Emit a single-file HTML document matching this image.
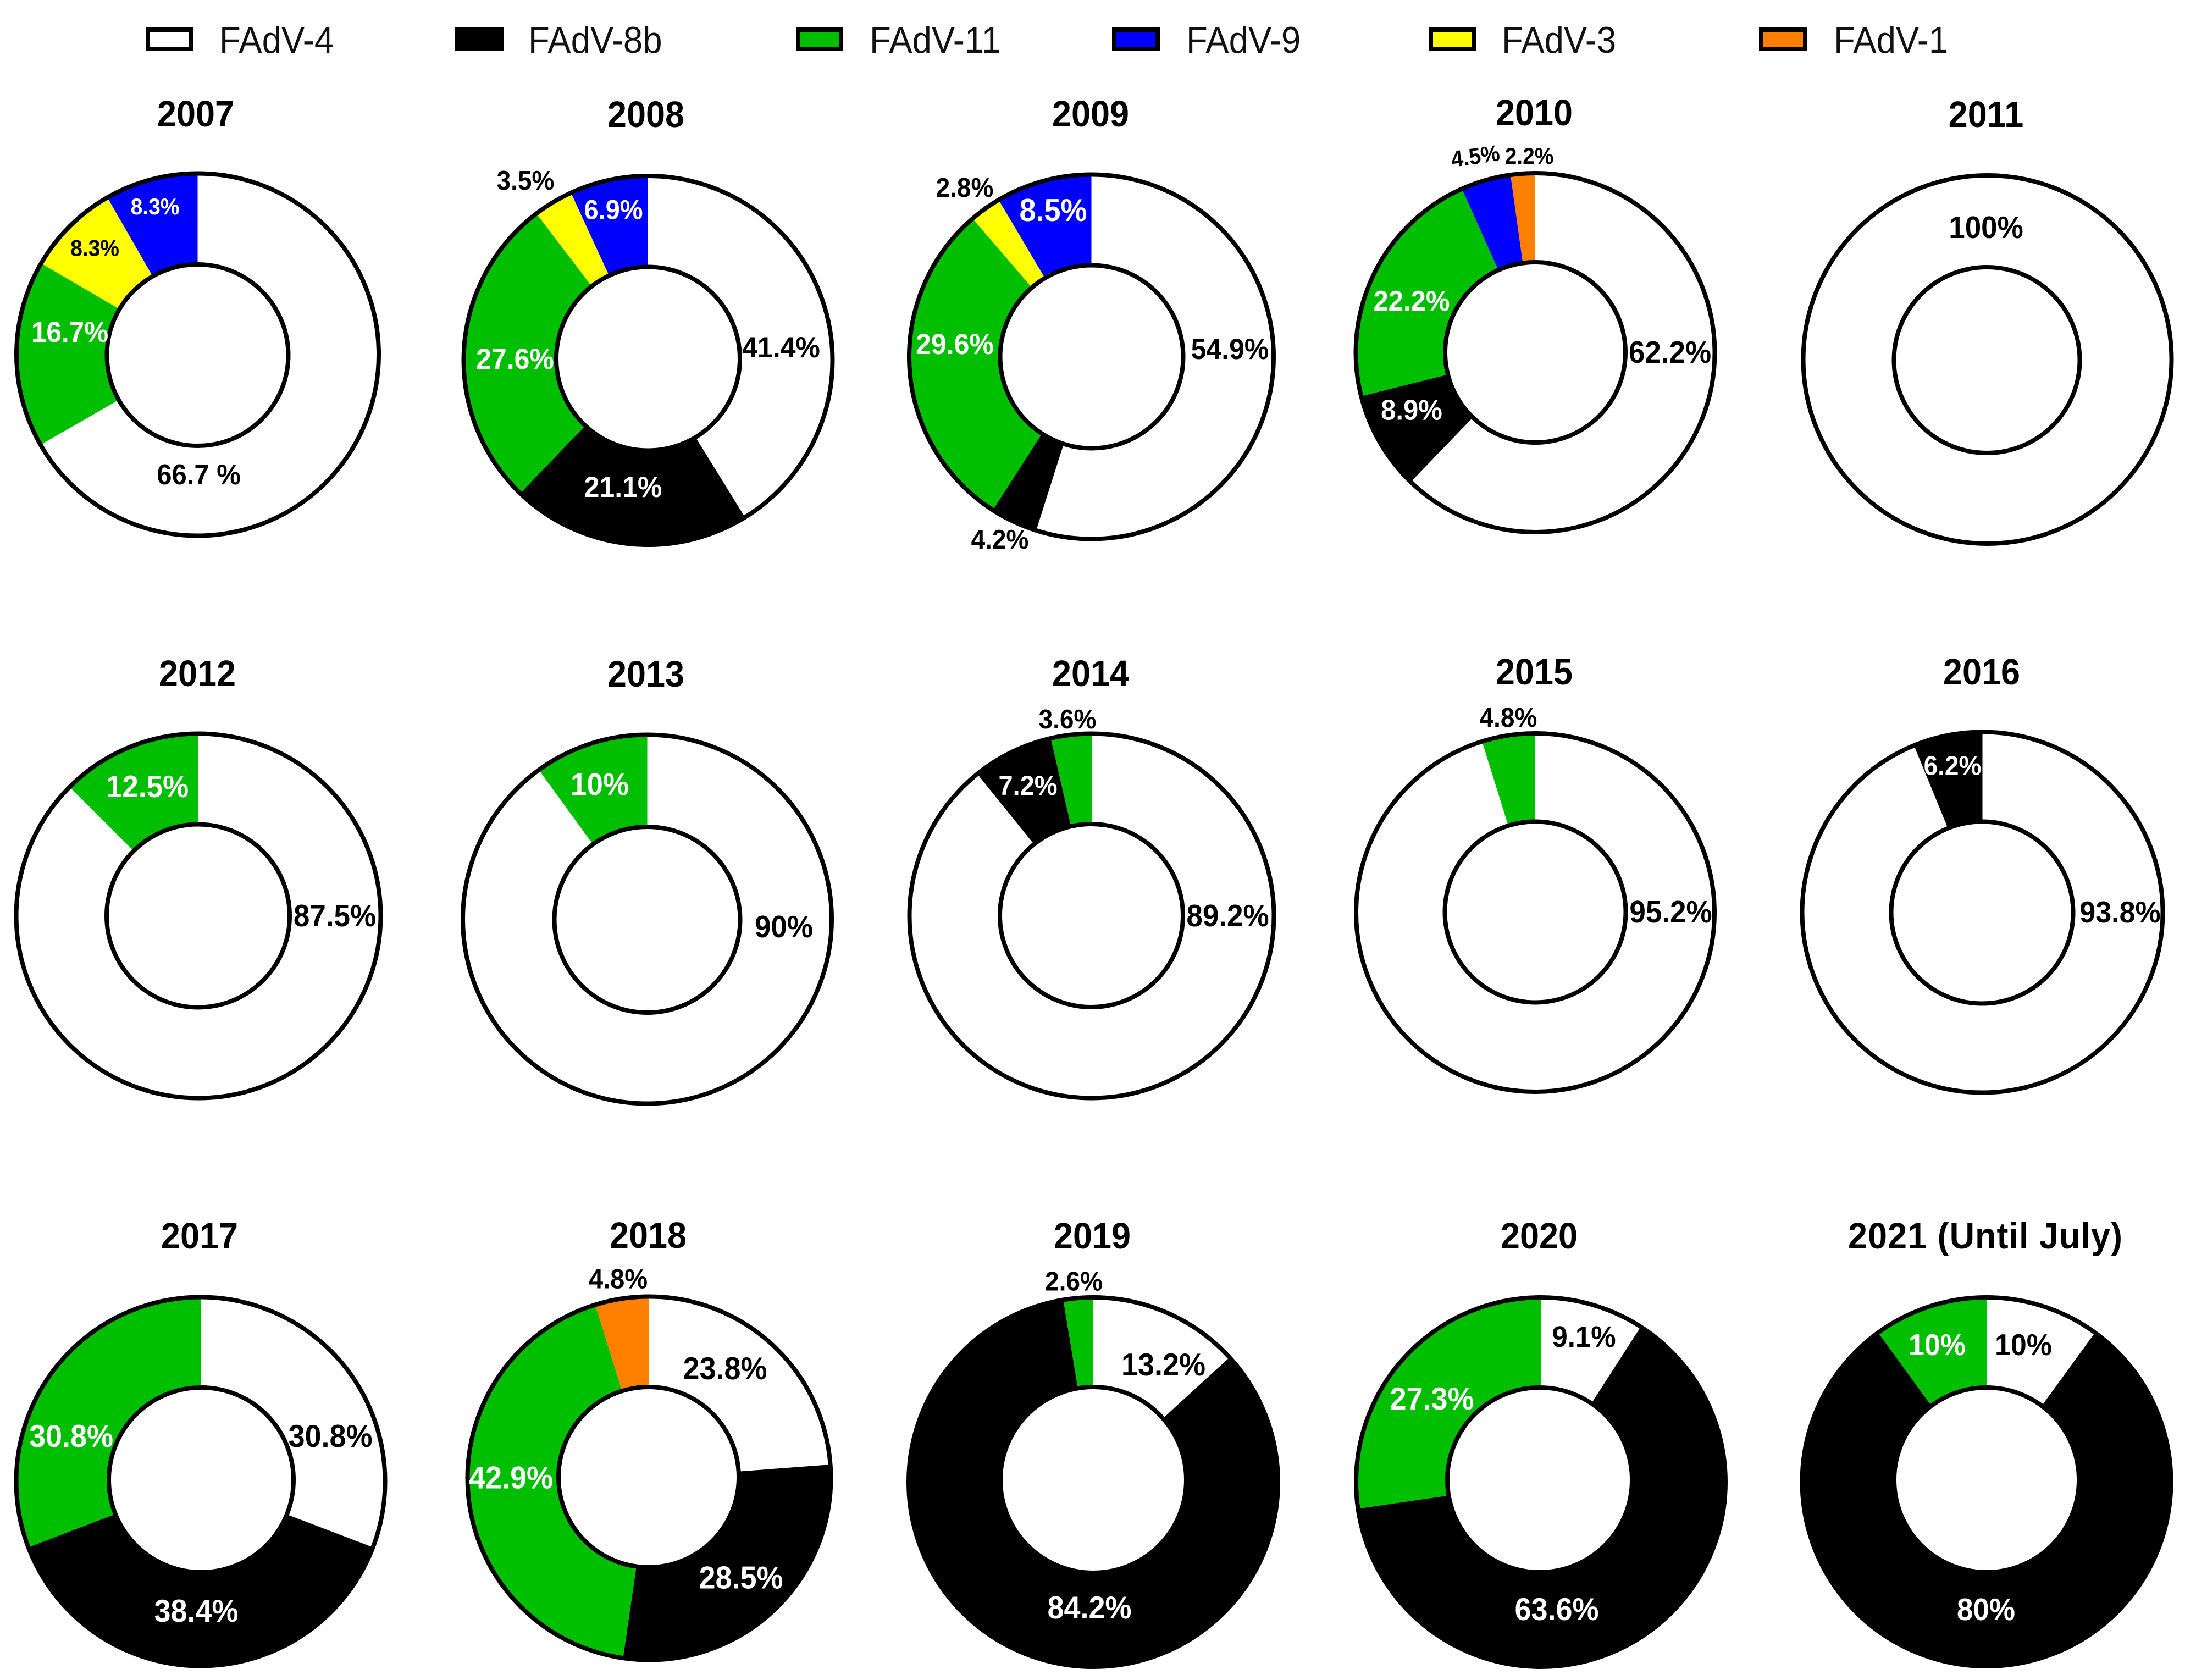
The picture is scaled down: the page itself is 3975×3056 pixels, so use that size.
<!DOCTYPE html>
<html lang="en">
<head>
<meta charset="utf-8">
<title>FAdV serotype distribution by year</title>
<style>
html,body{margin:0;padding:0;background:#fff;}
body{width:3975px;height:3056px;overflow:hidden;}
svg{display:block;}
text{font-family:"Liberation Sans",Arial,sans-serif;}
</style>
</head>
<body>
<svg id="chart" xmlns="http://www.w3.org/2000/svg" width="3975" height="3056" viewBox="0 0 3975 3056">
  <rect x="0" y="0" width="3975" height="3056" fill="#fff"/>
  <g id="legend"></g>
  <g id="panels"></g>
</svg>
<script>
// ---- data ----
const categories = ['2007','2008','2009','2010','2011','2012','2013','2014','2015','2016','2017','2018','2019','2020','2021 (Until July)'];
const seriesNames = ['FAdV-4','FAdV-8b','FAdV-11','FAdV-3','FAdV-9','FAdV-1'];
const fadv4  = [66.7,41.4,54.9,62.2,100,87.5,90,89.2,95.2,93.8,30.8,23.8,13.2,9.1,10];
const fadv8b = [0,21.1,4.2,8.9,0,0,0,7.2,0,6.2,38.4,28.5,84.2,63.6,80];
const fadv11 = [16.7,27.6,29.6,22.2,0,12.5,10,3.6,4.8,0,30.8,42.9,2.6,27.3,10];
const fadv3  = [8.3,3.5,2.8,0,0,0,0,0,0,0,0,0,0,0,0];
const fadv9  = [8.3,6.9,8.5,4.5,0,0,0,0,0,0,0,0,0,0,0];
const fadv1  = [0,0,0,2.2,0,0,0,0,0,0,0,4.8,0,0,0];

// ---- styling and layout (not data) ----
const seriesValues = [fadv4,fadv8b,fadv11,fadv3,fadv9,fadv1];
const seriesColors = ['#ffffff','#000000','#00be00','#ffff00','#0000ff','#ff8000'];
const legendOrder = [0,1,2,4,3,5];
const legendLayout = [
  {bx:269,bw:78,tx:399},{bx:832,bw:80,tx:961},{bx:1452,bw:78,tx:1582},
  {bx:2027,bw:79,tx:2158},{bx:2603,bw:78,tx:2732},{bx:3204,bw:80,tx:3336}
];
const panelLayout = [
  {cx:359.5,cy:645,r:329.5,ix:359.5,iy:646,ri:165,tx:356,ty:230},
  {cx:1179,cy:655.5,r:335.5,ix:1179,iy:652.5,ri:167,tx:1175,ty:231},
  {cx:1985.5,cy:649,r:331.5,ix:1986,iy:649,ri:166.5,tx:1984,ty:230},
  {cx:2793,cy:641.5,r:326.5,ix:2793,iy:641,ri:164,tx:2791,ty:228},
  {cx:3615.5,cy:654,r:335,ix:3614.5,iy:655,ri:169,tx:3613,ty:231},
  {cx:361,cy:1666,r:331.5,ix:360.5,iy:1666,ri:166.5,tx:359,ty:1248},
  {cx:1177.5,cy:1672,r:335.5,ix:1177.5,iy:1673,ri:169,tx:1175,ty:1249},
  {cx:1986,cy:1666,r:331.5,ix:1985.5,iy:1665.5,ri:166.5,tx:1984,ty:1248},
  {cx:2793,cy:1660,r:326,ix:2793,iy:1659,ri:164.5,tx:2791,ty:1245},
  {cx:3606.5,cy:1659.5,r:328,ix:3606,iy:1660,ri:165.5,tx:3605,ty:1245},
  {cx:365,cy:2695,r:335.5,ix:366,iy:2692,ri:168,tx:363,ty:2271},
  {cx:1181,cy:2689,r:330.5,ix:1180,iy:2687,ri:164,tx:1179,ty:2270},
  {cx:1989,cy:2696,r:336,ix:1989,iy:2692,ri:169,tx:1987,ty:2271},
  {cx:2803,cy:2696,r:336,ix:2801,iy:2692,ri:168,tx:2800,ty:2271},
  {cx:3614,cy:2695.5,r:335.5,ix:3614,iy:2692,ri:168,tx:3612,ty:2271,ls:1}
];
// label spots per panel: series index, x, baseline, font size, colour, optional suffix / rotation
const labelSpots = [
  [[0,361.5,881,49,'#000',' %'],[2,127,622,49.5,'#fff'],[3,172.5,465.5,39,'#000'],[4,282,390,39,'#fff']],
  [[0,1421,650,50,'#000'],[1,1133.5,904,50,'#fff'],[2,937,671,50,'#fff'],[3,956,345,46,'#000'],[4,1116,398.5,47,'#fff']],
  [[0,2237.5,653,50,'#000'],[1,1819,998,46,'#000'],[2,1737,644,50,'#fff'],[3,1755,358,46,'#000'],[4,1916,402,54,'#fff']],
  [[0,3038,660,53,'#000'],[1,2568,763.5,49,'#fff'],[2,2568,565,49,'#fff'],[4,2686,298,39,'#000','%',-8],[5,2782,298,39,'#000']],
  [[0,3613,433,53,'#000']],
  [[0,609,1685,53,'#000'],[2,268,1450,53,'#fff']],
  [[0,1426,1705,53,'#000'],[2,1091,1446,53,'#fff']],
  [[0,2233.5,1685,53,'#000'],[1,1870,1446,47,'#fff'],[2,1942,1325,46,'#000']],
  [[0,3039.5,1678,53,'#000'],[2,2744,1322,46,'#000']],
  [[0,3857,1678,52,'#000'],[1,3552,1409.5,46,'#fff']],
  [[0,601,2632,54,'#000'],[1,357,2950,54,'#fff'],[2,129.5,2632,54,'#fff']],
  [[0,1319,2509,54,'#000'],[1,1348,2889.5,54,'#fff'],[2,929.5,2707.5,54,'#fff'],[5,1124.5,2343.5,47,'#000']],
  [[0,2116.5,2502,54,'#000'],[1,1982,2944,54,'#fff'],[2,1953.5,2347.5,46,'#000']],
  [[0,2881.5,2450,51,'#000'],[1,2832,2947,54,'#fff'],[2,2605,2564,54,'#fff']],
  [[0,3681,2465,52,'#000'],[1,3613,2947,53,'#fff'],[2,3524,2465,52,'#fff']]
];
const textStretchY = 1.06;

// ---- drawing ----
const NS = 'http://www.w3.org/2000/svg';
function slug(s){ return s.toLowerCase().replace(/[^a-z0-9]+/g,'-').replace(/^-|-$/g,''); }
function make(tag, attrs, parent){
  const el = document.createElementNS(NS, tag);
  for (const k in attrs) el.setAttribute(k, attrs[k]);
  parent.appendChild(el);
  return el;
}
function placeText(x, y, rot){
  return 'translate(' + x + ' ' + y + ')' + (rot ? ' rotate(' + rot + ')' : '') + ' scale(1 ' + textStretchY + ')';
}
// axis function for a donut: share -> angle clockwise from 12 o'clock
function angleOf(share, total){ return share / total * 2 * Math.PI; }
function polar(cx, cy, r, a){ return [cx + r * Math.sin(a), cy - r * Math.cos(a)]; }
function wedgePath(cx, cy, r, a0, a1){
  if (a1 - a0 >= 2 * Math.PI - 1e-4) {
    return 'M' + (cx - r) + ' ' + cy + 'A' + r + ' ' + r + ' 0 1 1 ' + (cx + r) + ' ' + cy + 'A' + r + ' ' + r + ' 0 1 1 ' + (cx - r) + ' ' + cy + 'Z';
  }
  const p0 = polar(cx, cy, r, a0), p1 = polar(cx, cy, r, a1);
  const large = (a1 - a0) > Math.PI ? 1 : 0;
  return 'M' + cx + ' ' + cy + 'L' + p0[0] + ' ' + p0[1] + 'A' + r + ' ' + r + ' 0 ' + large + ' 1 ' + p1[0] + ' ' + p1[1] + 'Z';
}

const legendGroup = document.getElementById('legend');
legendOrder.forEach(function(si, n){
  const spot = legendLayout[n];
  const box = make('rect', {x:spot.bx, y:54, width:spot.bw, height:35, fill:seriesColors[si], stroke:'#000', 'stroke-width':8}, legendGroup);
  
  
  const label = make('text', {'font-size':63.5, fill:'#111', transform:placeText(spot.tx, 96, 0)}, legendGroup);
  
  
  label.textContent = seriesNames[si];
});

const panelsGroup = document.getElementById('panels');
categories.forEach(function(cat, i){
  const p = panelLayout[i];
  const g = make('g', {}, panelsGroup);
  
  

  const title = make('text', {'font-size':63, 'font-weight':'bold', 'text-anchor':'middle', fill:'#000', transform:placeText(p.tx, p.ty, 0)}, g);
  if (p.ls) title.setAttribute('letter-spacing', p.ls);
  
  
  title.textContent = cat;

  const total = seriesValues.reduce(function(sum, s){ return sum + s[i]; }, 0);
  let running = 0;
  seriesValues.forEach(function(s, si){
    const v = s[i];
    if (!v) return;
    const a0 = angleOf(running, total);
    running += v;
    const a1 = angleOf(running, total);
    const wedge = make('path', {d:wedgePath(p.cx, p.cy, p.r, a0, a1), fill:seriesColors[si]}, g);
    
    
  });

  const outer = make('circle', {cx:p.cx, cy:p.cy, r:p.r, fill:'none', stroke:'#000', 'stroke-width':8}, g);
  
  
  const inner = make('circle', {cx:p.ix, cy:p.iy, r:p.ri, fill:'#fff', stroke:'#000', 'stroke-width':8}, g);
  
  

  labelSpots[i].forEach(function(spot){
    const si = spot[0];
    const t = make('text', {'font-size':spot[3], 'font-weight':'bold', 'text-anchor':'middle', fill:spot[4], transform:placeText(spot[1], spot[2], spot[6])}, g);
    
    
    t.textContent = seriesValues[si][i] + (spot[5] || '%');
  });
});
</script>
</body>
</html>
